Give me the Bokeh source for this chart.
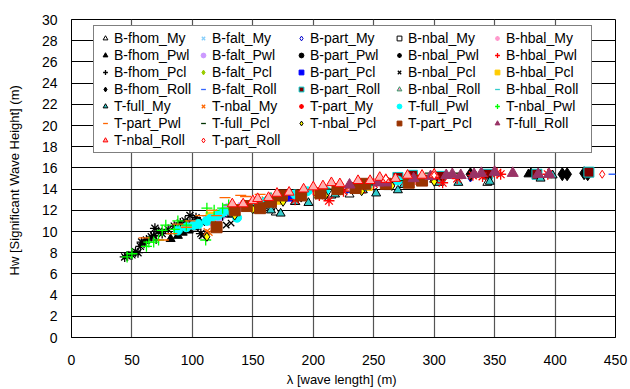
from bokeh.plotting import figure
from bokeh.models import Legend, LegendItem, FixedTicker
from bokeh.embed import file_html
from bokeh.resources import INLINE

FONT = "Liberation Sans"

x_ticks = list(range(0, 451, 50))
y_ticks = list(range(0, 31, 2))

# ---- data ----
bfhom_my_x = [165, 169, 185, 215, 230, 240, 262, 290, 300, 344]
bfhom_my_y = [12.2, 11.8, 12.8, 13.4, 13.5, 13.9, 14.2, 14.8, 14.9, 14.6]
bfhom_pwl_x = [82, 88, 92, 97, 102, 106, 118, 130, 378, 380]
bfhom_pwl_y = [9.3, 9.6, 9.9, 10.1, 10.4, 10.9, 11.2, 11.6, 15.4, 15.5]
bfhom_pcl_x = [70, 90, 110, 125]
bfhom_pcl_y = [9.2, 10.1, 10.9, 11.4]
bfhom_roll_x = [300, 330, 406, 410, 424, 427]
bfhom_roll_y = [15.2, 15.4, 15.4, 15.4, 15.5, 15.4]
bfalt_my_x = [110, 150, 200]
bfalt_my_y = [11.3, 12.6, 13.8]
bfalt_pwl_x = [115, 122, 125, 129, 135, 140]
bfalt_pwl_y = [11.0, 11.3, 11.6, 12.2, 11.9, 12.3]
bfalt_pcl_x = [105, 120, 175]
bfalt_pcl_y = [10.8, 11.6, 13.3]
bfalt_roll_x = [250, 350, 448]
bfalt_roll_y = [14.7, 15.3, 15.4]
bpart_my_x = [140, 230, 330]
bpart_my_y = [12.3, 14.0, 15.0]
bpart_pwl_x = [160, 230, 290]
bpart_pwl_y = [12.8, 14.2, 15.0]
bpart_pcl_x = [180, 230]
bpart_pcl_y = [13.2, 14.0]
bpart_roll_x = [270, 282, 305, 344, 385, 428]
bpart_roll_y = [15.1, 15.3, 15.2, 15.4, 15.4, 15.6]
bnbal_my_x = [150, 260]
bnbal_my_y = [12.7, 14.6]
bnbal_pwl_x = [44, 46, 50, 53, 55, 57, 58, 60, 62, 66, 68, 69, 72, 75, 80, 85, 90, 94, 98, 103, 107]
bnbal_pwl_y = [7.6, 7.7, 7.8, 8.1, 8.0, 8.6, 9.0, 8.9, 9.2, 9.5, 9.6, 10.3, 10.0, 9.8, 10.2, 10.5, 10.8, 11.0, 11.5, 11.3, 9.8]
bnbal_pcl_x = [98, 108, 120, 128, 132]
bnbal_pcl_y = [10.9, 9.6, 10.3, 10.6, 10.8]
bnbal_roll_x = [155, 165, 230]
bnbal_roll_y = [12.9, 13.2, 14.0]
bhbal_my_x = [140]
bhbal_my_y = [12.5]
bhbal_pwl_x = [120, 150, 200]
bhbal_pwl_y = [11.7, 12.6, 13.8]
bhbal_pcl_x = [115, 135, 170, 205, 235, 245]
bhbal_pcl_y = [11.4, 12.1, 13.0, 13.6, 14.1, 14.3]
bhbal_roll_x = [210, 300]
bhbal_roll_y = [14.1, 15.2]
tfull_my_x = [165, 173, 185, 196, 205, 218, 241, 252, 270, 275, 304, 320, 346, 388, 398]
tfull_my_y = [12.0, 11.7, 12.8, 12.7, 13.4, 13.5, 13.9, 13.6, 13.9, 14.4, 14.6, 14.6, 14.7, 15.0, 15.3]
tnbal_my_x = [112, 114, 160, 230]
tnbal_my_y = [10.0, 9.9, 13.0, 14.2]
tpart_my_x = [185, 205, 213, 225, 235, 240, 250, 262, 270, 285, 300, 307, 319, 332, 340, 352, 355, 394]
tpart_my_y = [13.0, 13.4, 12.9, 13.8, 14.2, 14.0, 14.5, 14.6, 14.8, 14.9, 15.0, 14.6, 15.0, 15.3, 15.2, 15.5, 15.4, 15.4]
tfull_pwl_x = [88, 95, 101, 105, 112, 115, 121, 125, 132, 137, 145, 150, 160, 165, 175, 185, 195, 210, 220, 245, 270]
tfull_pwl_y = [10.1, 10.4, 10.6, 10.7, 11.0, 11.2, 11.5, 11.8, 11.9, 11.3, 12.4, 12.6, 12.8, 12.7, 13.2, 13.5, 13.8, 13.9, 14.1, 14.4, 14.8]
tnbal_pwl_x = [46, 50, 62, 64, 68, 72, 75, 78, 85, 88, 95, 111, 112, 118, 125, 130]
tnbal_pwl_y = [7.6, 7.9, 8.6, 9.0, 9.0, 9.2, 10.1, 10.6, 10.2, 11.0, 10.6, 9.2, 12.2, 12.0, 12.2, 12.5]
tpart_pwl_x = [60, 76, 83, 88, 95, 98, 107, 116, 120, 127, 135, 140, 144, 156]
tpart_pwl_y = [9.4, 9.2, 9.8, 10.7, 10.4, 11.0, 11.5, 12.0, 11.5, 13.2, 12.2, 13.4, 13.3, 13.5]
tfull_pcl_x = [150, 190, 215, 245, 275, 297, 316]
tfull_pcl_y = [12.7, 13.5, 14.0, 14.4, 14.8, 15.5, 15.5]
tnbal_pcl_x = [112, 135, 150, 160, 175, 190, 210, 240, 265, 300]
tnbal_pcl_y = [9.5, 11.5, 12.1, 12.4, 12.8, 13.2, 13.4, 13.8, 14.3, 14.7]
tpart_pcl_x = [120, 135, 145, 156, 165, 174, 190, 206, 220, 235, 243, 260, 279, 290]
tpart_pcl_y = [10.4, 12.0, 12.4, 12.2, 12.8, 13.4, 13.4, 13.6, 14.0, 14.1, 14.5, 14.5, 14.6, 14.8]
tfull_roll_x = [230, 254, 260, 283, 297, 310, 315, 322, 333, 339, 350, 365, 386, 395]
tfull_roll_y = [14.4, 14.6, 14.6, 15.0, 15.2, 15.3, 15.4, 15.3, 15.4, 15.5, 15.6, 15.5, 15.4, 15.4]
tnbal_roll_x = [133, 142, 150, 154, 163, 170, 180, 192, 200, 208, 215, 222, 237, 247, 255, 260, 268, 278, 290, 300]
tnbal_roll_y = [12.6, 12.6, 12.9, 13.1, 13.2, 13.6, 13.7, 14.0, 14.2, 14.3, 14.6, 14.5, 14.8, 14.8, 15.1, 14.9, 15.0, 15.3, 15.3, 15.4]
tpart_roll_x = [260, 300, 439]
tpart_roll_y = [15.0, 15.3, 15.4]

series = [
    ("B-fhom_My", bfhom_my_x, bfhom_my_y, "triangle", 9, "white", "black"),
    ("B-falt_My", bfalt_my_x, bfalt_my_y, "x", 7, None, "#87cefa"),
    ("B-part_My", bpart_my_x, bpart_my_y, "diamond", 7, "white", "#0000cc"),
    ("B-nbal_My", bnbal_my_x, bnbal_my_y, "square", 6, "white", "black"),
    ("B-hbal_My", bhbal_my_x, bhbal_my_y, "asterisk", 7, None, "#ff99cc"),
    ("B-fhom_Pwl", bfhom_pwl_x, bfhom_pwl_y, "triangle", 9, "black", "black"),
    ("B-falt_Pwl", bfalt_pwl_x, bfalt_pwl_y, "circle", 9, "#cc99ff", "#cc99ff"),
    ("B-part_Pwl", bpart_pwl_x, bpart_pwl_y, "circle", 7, "black", "black"),
    ("B-nbal_Pwl", bnbal_pwl_x, bnbal_pwl_y, "asterisk", 10, None, "black"),
    ("B-hbal_Pwl", bhbal_pwl_x, bhbal_pwl_y, "cross", 8, None, "#ff0000"),
    ("B-fhom_Pcl", bfhom_pcl_x, bfhom_pcl_y, "cross", 8, None, "black"),
    ("B-falt_Pcl", bfalt_pcl_x, bfalt_pcl_y, "diamond", 8, "#99cc00", "#99cc00"),
    ("B-part_Pcl", bpart_pcl_x, bpart_pcl_y, "square", 7, "#0000ff", "#0000ff"),
    ("B-nbal_Pcl", bnbal_pcl_x, bnbal_pcl_y, "x", 9, None, "black"),
    ("B-hbal_Pcl", bhbal_pcl_x, bhbal_pcl_y, "square", 9, "#ffcc00", "#ffcc00"),
    ("B-fhom_Roll", bfhom_roll_x, bfhom_roll_y, "diamond", 13, "black", "black"),
    ("B-falt_Roll", bfalt_roll_x, bfalt_roll_y, "dash", 9, None, "#3366ff"),
    ("B-part_Roll", bpart_roll_x, bpart_roll_y, "square", 10, "#800000", "#00cccc"),
    ("B-nbal_Roll", bnbal_roll_x, bnbal_roll_y, "triangle", 9, "#ff99cc", "#339966"),
    ("B-hbal_Roll", bhbal_roll_x, bhbal_roll_y, "dash", 10, None, "#33cccc"),
    ("T-full_My", tfull_my_x, tfull_my_y, "triangle", 9, "#33cccc", "black"),
    ("T-nbal_My", tnbal_my_x, tnbal_my_y, "x", 9, None, "#ff6600"),
    ("T-part_My", tpart_my_x, tpart_my_y, "asterisk", 11, None, "#ff0000"),
    ("T-full_Pwl", tfull_pwl_x, tfull_pwl_y, "circle", 9, "#00ffff", "#00ffff"),
    ("T-nbal_Pwl", tnbal_pwl_x, tnbal_pwl_y, "cross", 11, None, "#00ff00"),
    ("T-part_Pwl", tpart_pwl_x, tpart_pwl_y, "dash", 11, None, "#ff6600"),
    ("T-full_Pcl", tfull_pcl_x, tfull_pcl_y, "dash", 11, None, "#003300"),
    ("T-nbal_Pcl", tnbal_pcl_x, tnbal_pcl_y, "diamond", 9, "#ffff00", "black"),
    ("T-part_Pcl", tpart_pcl_x, tpart_pcl_y, "square", 11, "#993300", "#993300"),
    ("T-full_Roll", tfull_roll_x, tfull_roll_y, "triangle", 11, "#993366", "#993366"),
    ("T-nbal_Roll", tnbal_roll_x, tnbal_roll_y, "triangle", 10, "#ffb0b0", "#ff0000"),
    ("T-part_Roll", tpart_roll_x, tpart_roll_y, "diamond", 8, "white", "#ff0000"),
]

W, H = 630, 389
p = figure(width=W, height=H, output_backend="svg", toolbar_location=None,
           x_range=(0, 450), y_range=(0, 30))
p.min_border_left = 71
p.min_border_right = 15
p.min_border_top = 19
p.min_border_bottom = 52
p.outline_line_color = "black"
p.outline_line_width = 1
p.background_fill_color = "white"
p.border_fill_color = "white"

for ax in (p.xaxis[0], p.yaxis[0]):
    ax.axis_line_color = "black"
    ax.major_tick_in = 0
    ax.major_tick_out = 0
    ax.minor_tick_line_color = None
    ax.major_label_text_font = FONT
    ax.major_label_text_font_size = "14px"
    ax.major_label_text_color = "black"
    ax.axis_label_text_font = FONT
    ax.axis_label_text_font_size = "13px"
    ax.axis_label_text_font_style = "normal"
    ax.axis_label_text_color = "black"
p.xaxis[0].ticker = FixedTicker(ticks=x_ticks)
p.yaxis[0].ticker = FixedTicker(ticks=y_ticks)
p.xaxis[0].major_label_standoff = 17
p.yaxis[0].major_label_standoff = 14
p.xaxis[0].axis_label = "\u03bb  [wave length] (m)"
p.yaxis[0].axis_label = "Hw  [Significant Wave Height] (m)"
p.xaxis[0].axis_label_standoff = 4
p.yaxis[0].axis_label_standoff = 17

p.xgrid.grid_line_color = "#555555"
p.xgrid.grid_line_width = 1.2
p.ygrid.grid_line_color = "black"
p.ygrid.grid_line_width = 1

items = []
for name, xs, ys, mk, sz, fc, lc in series:
    r = p.scatter(xs, ys, marker=mk, size=sz,
                  fill_color=fc, line_color=lc,
                  line_width=1.3 if fc is None else 1)
    items.append(LegendItem(label=name, renderers=[r]))

leg = Legend(items=items, ncols=5, orientation="horizontal", location=(22, 184))
leg.label_text_font = FONT
leg.label_text_font_size = "14px"
leg.label_text_color = "black"
leg.glyph_width = 14
leg.glyph_height = 12
leg.label_height = 12
leg.label_width = 81
leg.label_standoff = 2
leg.spacing = 1
leg.padding = 4
leg.margin = 0
leg.border_line_color = "black"
leg.border_line_width = 1
leg.background_fill_color = "white"
leg.background_fill_alpha = 1
p.add_layout(leg, "center")

open("out.html", "w").write(file_html(p, INLINE))
